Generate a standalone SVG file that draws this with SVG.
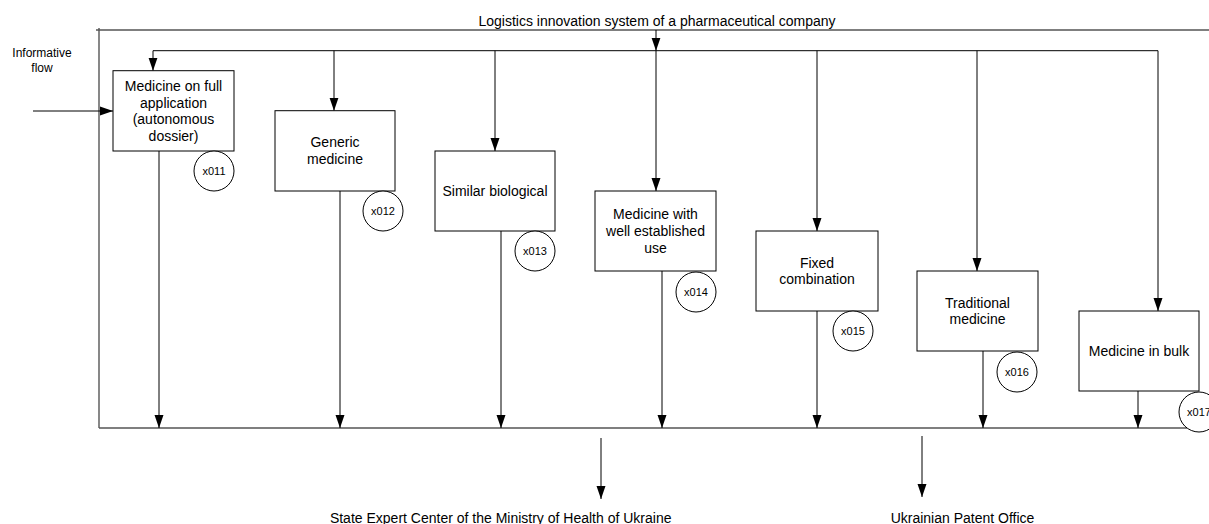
<svg xmlns="http://www.w3.org/2000/svg" width="1209" height="524" viewBox="0 0 1209 524">
<style>
text{font-family:"Liberation Sans",Arial,sans-serif;fill:#000;text-anchor:middle}
.lbl{font-size:14px}
.sm{font-size:12px}
.id{font-size:11px}
.box{fill:#fff;stroke:#000;stroke-width:1}
.cir{fill:#fff;stroke:#000;stroke-width:1}
.frame{fill:none;stroke:#555;stroke-width:1.4}
.con{fill:none;stroke:#000;stroke-width:1}
</style>
<defs>
<marker id="ah" markerUnits="userSpaceOnUse" markerWidth="14" markerHeight="10" viewBox="-13 -5 14 10" refX="0" refY="0" orient="auto">
<path d="M0,0 L-13,-4.5 L-13,4.5 Z" fill="#000"/>
</marker>
</defs>
<g id="frame">
<line class="frame" x1="96" y1="30" x2="1209" y2="30"/>
<line class="frame" x1="99" y1="28" x2="99" y2="428"/>
<line class="frame" x1="99" y1="428" x2="1187" y2="428"/>
<text class="lbl" x="657" y="25.5">Logistics innovation system of a pharmaceutical company</text>
</g>
<g id="connectors">
<line class="con" x1="153" y1="50.7" x2="1158" y2="50.7"/>
<line class="con" x1="656" y1="30" x2="656" y2="50.7" marker-end="url(#ah)"/>
<line class="con" x1="153" y1="50.7" x2="153" y2="70.7" marker-end="url(#ah)"/>
<line class="con" x1="334" y1="50.7" x2="334" y2="110.7" marker-end="url(#ah)"/>
<line class="con" x1="495" y1="50.7" x2="495" y2="151" marker-end="url(#ah)"/>
<line class="con" x1="656" y1="50.7" x2="656" y2="191" marker-end="url(#ah)"/>
<line class="con" x1="817" y1="50.7" x2="817" y2="231" marker-end="url(#ah)"/>
<line class="con" x1="977" y1="50.7" x2="977" y2="271" marker-end="url(#ah)"/>
<line class="con" x1="1158" y1="50.7" x2="1158" y2="311" marker-end="url(#ah)"/>
<line class="con" x1="159" y1="151" x2="159" y2="428" marker-end="url(#ah)"/>
<line class="con" x1="340" y1="191" x2="340" y2="428" marker-end="url(#ah)"/>
<line class="con" x1="501" y1="231" x2="501" y2="428" marker-end="url(#ah)"/>
<line class="con" x1="662" y1="271" x2="662" y2="428" marker-end="url(#ah)"/>
<line class="con" x1="817" y1="311" x2="817" y2="428" marker-end="url(#ah)"/>
<line class="con" x1="983" y1="351" x2="983" y2="428" marker-end="url(#ah)"/>
<line class="con" x1="1138" y1="391" x2="1138" y2="428" marker-end="url(#ah)"/>
<line class="con" x1="33" y1="111" x2="113" y2="111" marker-end="url(#ah)"/>
<line class="con" x1="601" y1="438" x2="601" y2="499" marker-end="url(#ah)"/>
<line class="con" x1="922" y1="436" x2="922" y2="497" marker-end="url(#ah)"/>
</g>
<g id="informative-flow">
<text class="sm" x="42" y="57">Informative</text>
<text class="sm" x="42" y="72">flow</text>
</g>
<g id="n1">
<rect class="box" x="113" y="70.7" width="121" height="80.3"/>
<text class="lbl" x="173.5" y="90.8">Medicine on full</text>
<text class="lbl" x="173.5" y="107.5">application</text>
<text class="lbl" x="173.5" y="124.2">(autonomous</text>
<text class="lbl" x="173.5" y="140.8">dossier)</text>
<circle class="cir" cx="214" cy="171" r="20"/>
<text class="id" x="214" y="175">x011</text>
</g>
<g id="n2">
<rect class="box" x="275" y="110.7" width="120" height="80.3"/>
<text class="lbl" x="335" y="147.3">Generic</text>
<text class="lbl" x="335" y="164">medicine</text>
<circle class="cir" cx="383" cy="211" r="20"/>
<text class="id" x="383" y="215">x012</text>
</g>
<g id="n3">
<rect class="box" x="435" y="151" width="120" height="80"/>
<text class="lbl" x="495" y="196">Similar biological</text>
<circle class="cir" cx="535" cy="251" r="20"/>
<text class="id" x="535" y="255">x013</text>
</g>
<g id="n4">
<rect class="box" x="595" y="191" width="121" height="80"/>
<text class="lbl" x="655.5" y="219.3">Medicine with</text>
<text class="lbl" x="655.5" y="236">well established</text>
<text class="lbl" x="655.5" y="252.7">use</text>
<circle class="cir" cx="696" cy="292" r="20"/>
<text class="id" x="696" y="296">x014</text>
</g>
<g id="n5">
<rect class="box" x="756" y="231" width="122" height="80"/>
<text class="lbl" x="817" y="267.7">Fixed</text>
<text class="lbl" x="817" y="284.4">combination</text>
<circle class="cir" cx="853" cy="331" r="20"/>
<text class="id" x="853" y="335">x015</text>
</g>
<g id="n6">
<rect class="box" x="917" y="271" width="121" height="80"/>
<text class="lbl" x="977.5" y="307.7">Traditional</text>
<text class="lbl" x="977.5" y="324.4">medicine</text>
<circle class="cir" cx="1017" cy="372" r="20"/>
<text class="id" x="1017" y="376">x016</text>
</g>
<g id="n7">
<rect class="box" x="1079" y="311" width="120" height="80"/>
<text class="lbl" x="1139" y="356">Medicine in bulk</text>
<circle class="cir" cx="1199" cy="412" r="20"/>
<text class="id" x="1199" y="416">x017</text>
</g>
<g id="targets">
<text class="lbl" x="500.7" y="523">State Expert Center of the Ministry of Health of Ukraine</text>
<text class="lbl" x="962.5" y="523">Ukrainian Patent Office</text>
</g>
</svg>
